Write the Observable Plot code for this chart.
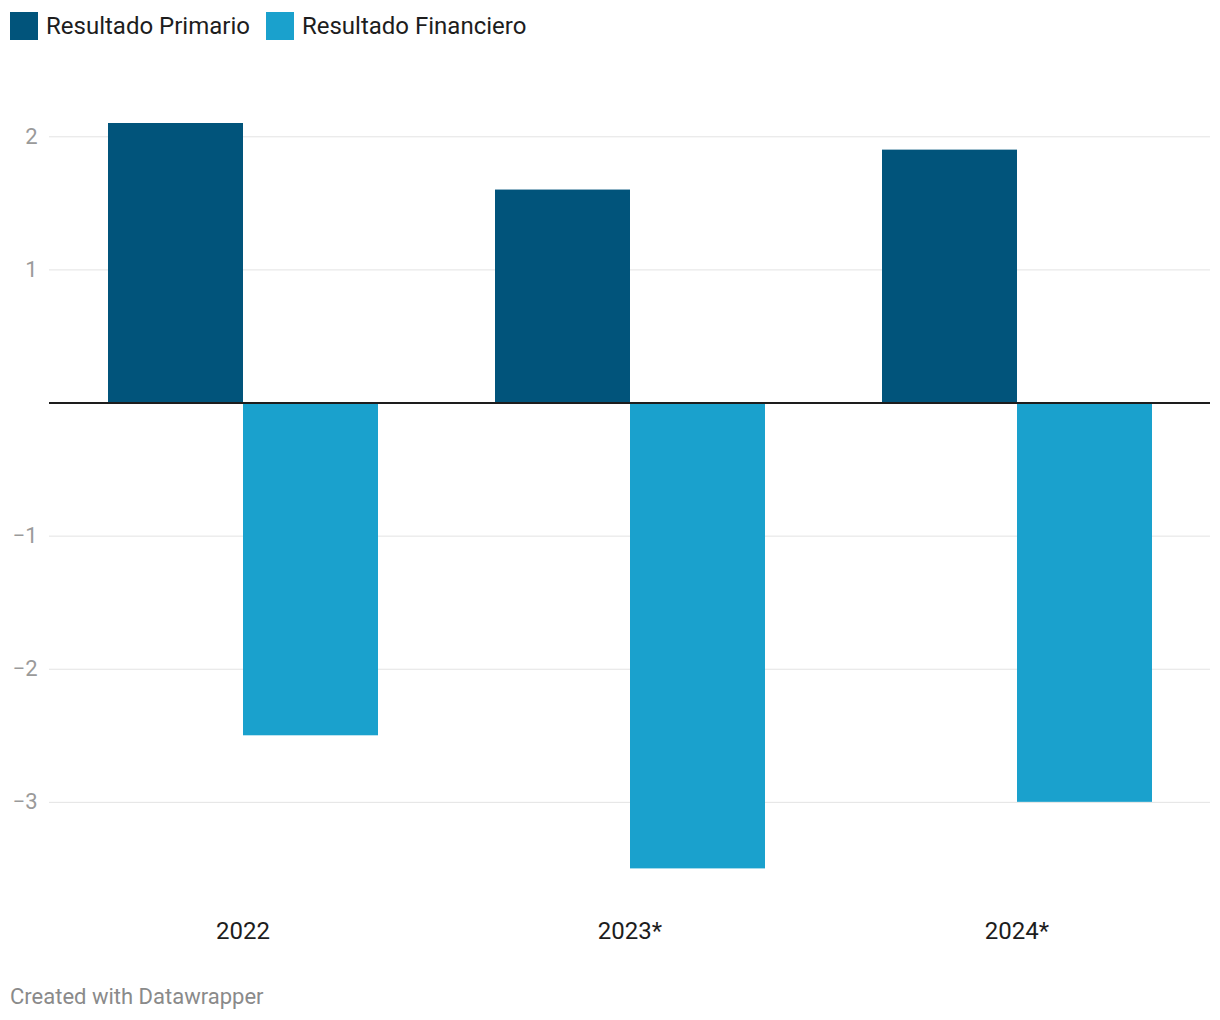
<!DOCTYPE html>
<html>
<head>
<meta charset="utf-8">
<script src="https://cdn.jsdelivr.net/npm/d3@7"></script>
<script src="https://cdn.jsdelivr.net/npm/@observablehq/plot@0.6"></script>
<style>
  body { margin: 0; background: #fff; font-family: Roboto, "Noto Sans", sans-serif; }
  #wrap { position: relative; width: 1220px; height: 1020px; }
  #legend { position: absolute; top: 12px; left: 10px; display: flex; align-items: center; font-size: 24px; color: #1d1d1d; }
  .item { display: flex; align-items: center; margin-right: 16px; height: 28px; }
  .sw { width: 28px; height: 28px; margin-right: 8px; }
  #footer { position: absolute; left: 10px; top: 984px; font-size: 22px; color: #8a8a8a; }
  #chart { position: absolute; top: 0; left: 0; }
</style>
</head>
<body>
<div id="wrap">
  <div id="chart"></div>
  <div id="legend"></div>
  <div id="footer">Created with Datawrapper</div>
</div>
<script>
const years = ["2022", "2023*", "2024*"];
const series = ["Resultado Primario", "Resultado Financiero"];
const primario = [2.1, 1.6, 1.9];
const financiero = [-2.5, -3.5, -3.0];
const colors = ["#01547b", "#1aa1cd"];
const yTicks = [-3, -2, -1, 1, 2];

const data = [];
years.forEach((y, i) => {
  data.push({year: y, series: series[0], value: primario[i]});
  data.push({year: y, series: series[1], value: financiero[i]});
});

const legend = document.getElementById("legend");
series.forEach((s, i) => {
  const it = document.createElement("div");
  it.className = "item";
  it.innerHTML = `<div class="sw" style="background:${colors[i]}"></div><span>${s}</span>`;
  legend.appendChild(it);
});

const fmt = d => (d < 0 ? "\u2212" + Math.abs(d) : String(d));

const chart = Plot.plot({
  width: 1220,
  height: 960,
  marginLeft: 49,
  marginRight: 10,
  marginTop: 123,
  marginBottom: 91.6,
  style: {fontFamily: "Roboto, sans-serif", background: "transparent"},
  fx: {domain: years, padding: 0, label: null},
  x: {domain: series, paddingInner: 0, paddingOuter: 0.425, axis: null},
  y: {domain: [-3.5, 2.1], label: null},
  color: {domain: series, range: colors},
  marks: [
    Plot.gridY(yTicks, {stroke: "#e3e3e3", strokeOpacity: 1, strokeWidth: 1}),
    Plot.axisY(yTicks, {tickSize: 0, tickPadding: 12, fontSize: 22, color: "#9a9a9a", label: null, tickFormat: fmt}),
    Plot.barY(data, {fx: "year", x: "series", y: "value", fill: "series"}),
    Plot.ruleY([0], {stroke: "#1d1d1d", strokeWidth: 2}),
    Plot.axisFx({anchor: "bottom", tickSize: 0, tickPadding: 53, fontSize: 24, color: "#1d1d1d", label: null})
  ]
});
document.getElementById("chart").appendChild(chart);
</script>
</body>
</html>
